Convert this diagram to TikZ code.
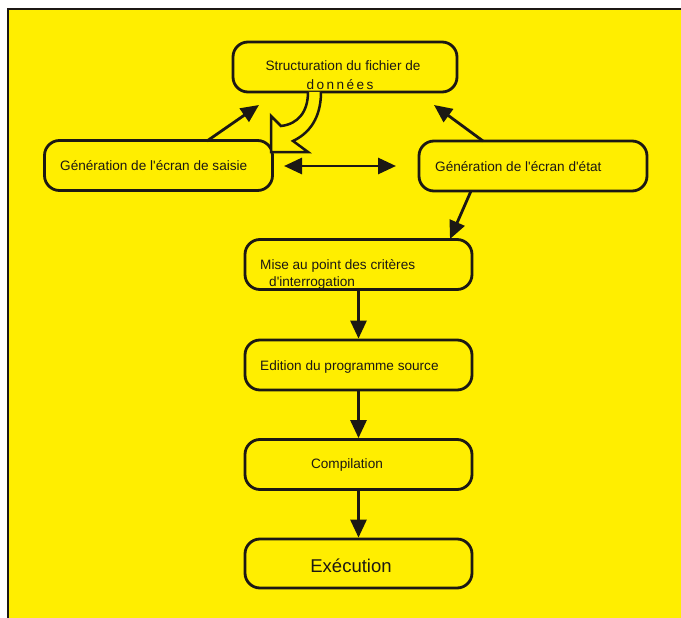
\documentclass[tikz,border=0pt]{standalone}
\usepackage{fontspec}
\setmainfont{Liberation Sans}
\usetikzlibrary{arrows.meta}
\definecolor{bgyellow}{RGB}{255,238,0}
\definecolor{ink}{RGB}{28,24,20}
\tikzset{
  box/.style={draw=ink, line width=2.8pt, rounded corners=15pt, fill=bgyellow,
    minimum width=227pt, minimum height=50pt, inner sep=0pt},
  txt/.style={text=ink, font=\fontsize{13.6}{16}\selectfont, inner sep=0pt, anchor=west},
  arr/.style={draw=ink, line width=2.8pt, -{Triangle[length=18pt,width=16pt]}},
  darr/.style={draw=ink, line width=2.8pt, {Triangle[length=18pt,width=16pt]}-{Triangle[length=18pt,width=16pt]}},
}
\begin{document}
\begin{tikzpicture}[x=1pt,y=-1pt]
\useasboundingbox (0,0) rectangle (681,618);
\fill[white] (0,0) rectangle (681,618);
\fill[bgyellow] (8,9) rectangle (681,618);
\draw[ink, line width=2pt] (8,618) -- (8,9) -- (681,9);

% boxes
\node[box, minimum width=224pt] (struct) at (345,67) {};
\node[box, minimum width=228pt] (saisie) at (158.5,165.5) {};
\node[box, minimum width=228pt] (etat) at (533,166) {};
\node[box] (mise) at (358.5,264.5) {};
\node[box] (edit) at (358.5,365) {};
\node[box] (comp) at (358.5,464.5) {};
\node[box, minimum height=49pt] (exec) at (358.5,563.5) {};

% texts
\node[txt, anchor=center] (tstruct1) at (343,66) {Structuration du fichier de};
\node[txt, anchor=center] (tstruct2) at (340,85) {\addfontfeature{LetterSpace=18}données};
\node[txt] (tsaisie) at (60,166) {Génération de l\textquotesingle écran de saisie};
\node[txt] (tetat) at (435,167) {Génération de l\textquotesingle écran d\textquotesingle état};
\node[txt] (tmise1) at (260,266) {Mise au point des critères};
\node[txt] (tmise2) at (269,283) {d\textquotesingle interrogation};
\node[txt] (tedit) at (260,367) {Edition du programme source};
\node[txt, anchor=center] (tcomp) at (347,465) {Compilation};
\node[txt, anchor=center, font=\fontsize{18.5}{22}\selectfont] (texec) at (351,566) {Exécution};

% free ends
\coordinate (s1) at (207,141);
\coordinate (s1t) at (259,105);
\coordinate (e1) at (483,141);
\coordinate (e1t) at (434,105);
\coordinate (e2) at (471,191);
\coordinate (e2t) at (450,239);
\coordinate (dl) at (284,166);
\coordinate (dr) at (396,166);

\draw[arr] (s1) -- (s1t);
\draw[arr] (e1) -- (e1t);
\draw[arr] (e2) -- (e2t);
\draw[darr] (dl) -- (dr);
\draw[arr] (mise.south) -- (edit.north);
\draw[arr] (edit.south) -- (comp.north);
\draw[arr] (comp.south) -- (exec.north);

% hollow curved arrow from struct
\coordinate (h1) at (308,92);
\coordinate (h2) at (321,92);
\draw[ink, line width=2.5pt, fill=bgyellow, line join=miter]
  (h1) .. controls (308,112) and (298,124) .. (281,126)
  -- (271,116) -- (271,152) -- (308,152) -- (293,141)
  .. controls (314,131) and (321,112) .. (h2);
\end{tikzpicture}
\end{document}
